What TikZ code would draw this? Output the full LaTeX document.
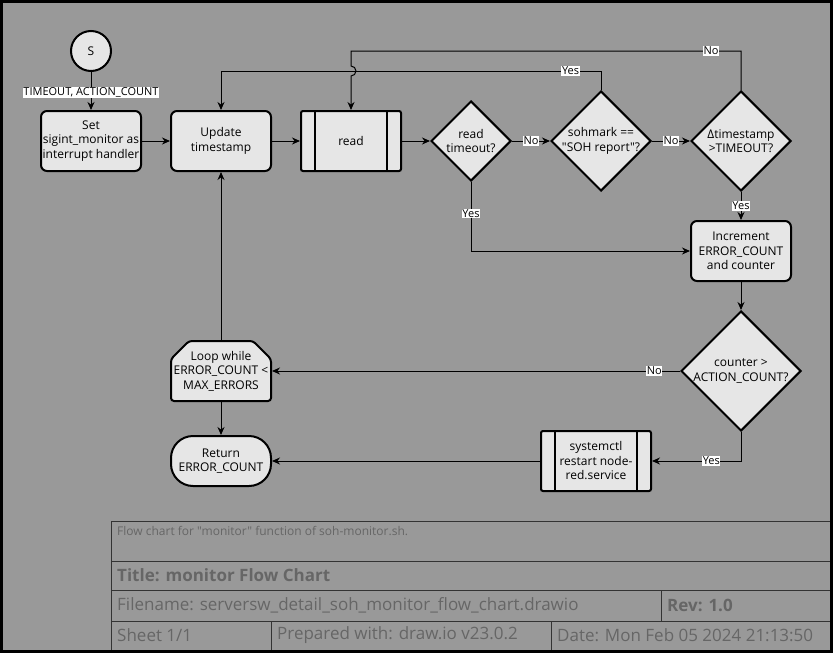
\documentclass[tikz,border=0pt]{standalone}
\usepackage{fontspec}
\setmainfont{Open Sans}[Ligatures=TeXOff]
\usetikzlibrary{shapes.geometric, arrows.meta, positioning}

\definecolor{sheet}{HTML}{999999}
\definecolor{boxfill}{HTML}{E6E6E6}
\definecolor{tabtext}{HTML}{666666}
\definecolor{tabline}{HTML}{333333}

\begin{document}
\begin{tikzpicture}[x=1pt, y=-1pt,
    every node/.style={font=\fontsize{12}{14.5}\selectfont, align=center},
    box/.style={draw, fill=boxfill, line width=2pt, rounded corners=6pt, minimum width=100pt, minimum height=60pt, inner sep=1pt},
    proc/.style={box, rounded corners=2pt, path picture={
        \draw[line width=2pt] ([xshift=14pt]path picture bounding box.north west) -- ([xshift=14pt]path picture bounding box.south west);
        \draw[line width=2pt] ([xshift=-14pt]path picture bounding box.north east) -- ([xshift=-14pt]path picture bounding box.south east);}},
    dec/.style={diamond, draw, fill=boxfill, line width=2pt, minimum width=#1, minimum height=#1, inner sep=0pt},
    flow/.style={-{Stealth[length=8pt, width=7pt]}, line width=1pt},
    lbl/.style={fill=white, inner sep=0.6pt, font=\fontsize{11}{12}\selectfont},
    tab/.style={anchor=west, text=tabtext, inner sep=0pt, font=\fontsize{17}{19}\selectfont}]

  % sheet and frame
  \fill[black] (0,0) rectangle (833,653);
  \fill[sheet] (3,3) rectangle (830,650);
  \useasboundingbox (0,0) rectangle (833,653);

  % flow chart
  \node[circle, draw, fill=boxfill, line width=2pt, minimum size=40pt, inner sep=0pt] (start) at (91,51) {S};
  \node[box] (set) at (91,141) {Set\\sigint\_monitor as\\interrupt handler};
  \node[box] (upd) at (221,141) {Update\\timestamp};
  \node[proc] (rd) at (351,141) {read};
  \node[dec=80pt, label={center:read\\timeout?}] (rt) at (471,141) {};
  \node[dec=100pt, label={center:sohmark ==\\"SOH report"?}] (soh) at (601,141) {};
  \node[dec=100pt, label={center:Δtimestamp\\>TIMEOUT?}] (dts) at (741,141) {};
  \node[box] (inc) at (741,251) {Increment\\ERROR\_COUNT\\and counter};
  \node[dec=120pt, label={center:counter >\\ACTION\_COUNT?}] (cnt) at (741,371) {};
  % loop limit outline
  \draw[line width=2pt, fill=boxfill, rounded corners=3pt] (171,359) -- (189,341) -- (253,341) -- (271,359) -- (271,401) -- (171,401) -- cycle;
  \node[minimum width=100pt, minimum height=60pt, inner sep=1pt, outer sep=1pt] (loop) at (221,371) {Loop while\\ERROR\_COUNT <\\MAX\_ERRORS};
  \node[box, rounded corners=22pt, minimum height=50pt] (ret) at (221,461) {Return\\ERROR\_COUNT};
  \node[proc, minimum width=110pt] (sys) at (596,461) {systemctl\\restart node-\\red.service};

  \draw[flow] (start) -- node[lbl, pos=0.53] {TIMEOUT, ACTION\_COUNT} (set);
  \draw[flow] (set) -- (upd);
  \draw[flow] (upd) -- (rd);
  \draw[flow] (rd) -- (rt);
  \draw[flow] (rt) -- node[lbl] {No} (soh);
  \draw[flow] (soh) -- node[lbl] {No} (dts);
  \draw[flow] (soh.north) -- (soh.north |- 0,71) -| node[lbl, pos=0.04] {Yes} (upd.north);
  \draw[flow] (dts.north) -- (dts.north |- 0,51) -- node[lbl, pos=0.077] {No} (rd.north |- 0,51)
    -- (rd.north |- 0,66) arc[start angle=-90, end angle=90, radius=5] -- (rd.north);
  \draw[flow] (rt.south) |- node[lbl, pos=0.23] {Yes} (inc.west);
  \draw[flow] (dts) -- node[lbl] {Yes} (inc);
  \draw[flow] (inc) -- (cnt);
  \draw[flow] (cnt.west) -- node[lbl, pos=0.063] {No} (loop.east);
  \draw[flow] (cnt.south) |- node[lbl, pos=0.667] {Yes} (sys.east);
  \draw[flow] (sys) -- (ret);
  \draw[flow] (loop) -- (ret);
  \draw[flow] (loop) -- (upd);

  % title block
  \draw[tabline, line width=1pt] (111,650) -- (111,521) -- (830,521)
    (111,561) -- (830,561) (111,590) -- (830,590) (111,621) -- (830,621)
    (661,590) -- (661,621) (271,621) -- (271,650) (551,621) -- (551,650);
  \node[tab, font=\fontsize{12}{14}\selectfont] (note) at (117,531) {Flow chart for "monitor" function of soh-monitor.sh.};
  \node[tab, font=\bfseries\fontsize{17}{19}\selectfont] (title) at (117,575) {Title: monitor Flow Chart};
  \node[tab] (fname) at (117,605) {Filename: serversw\_detail\_soh\_monitor\_flow\_chart.drawio};
  \node[tab, font=\bfseries\fontsize{17}{19}\selectfont] (rev) at (667,605) {Rev: 1.0};
  \node[tab] (sheetno) at (117,635) {Sheet 1/1};
  \node[tab] (prep) at (277,635) {Prepared with: draw.io v23.0.2};
  \node[tab] (date) at (557,635) {Date: Mon Feb 05 2024 21:13:50};
\end{tikzpicture}
\end{document}
